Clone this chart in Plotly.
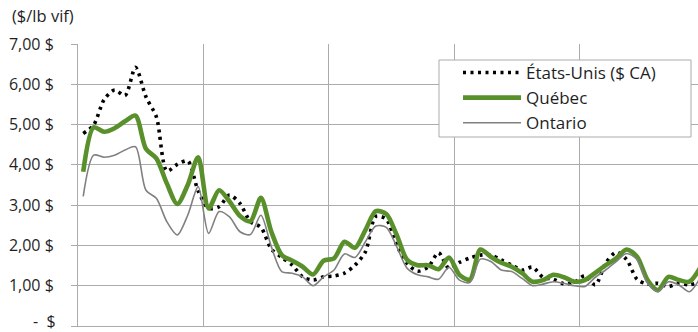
import plotly.graph_objects as go

months = list(range(60))

us = [4.78, 4.99, 5.62, 5.86, 5.72, 6.42, 5.69, 5.19, 3.85, 4.01,
      4.10, 3.35, 2.92, 2.96, 3.25, 3.04, 2.59, 2.45, 1.91, 1.70,
      1.51, 1.22, 1.14, 1.22, 1.24, 1.31, 1.51, 1.84, 2.72, 2.65,
      2.01, 1.55, 1.36, 1.46, 1.82, 1.43, 1.58, 1.69, 1.76, 1.76,
      1.64, 1.51, 1.39, 1.46, 1.21, 1.16, 1.05, 1.08, 1.25, 1.02,
      1.56, 1.83, 1.65, 1.16, 1.04, 1.06, 0.98, 1.06, 1.02, 1.10]

quebec = [3.83, 4.93, 4.82, 4.91, 5.08, 5.22, 4.40, 4.16, 3.54, 3.03,
          3.50, 4.19, 2.92, 3.37, 3.09, 2.73, 2.60, 3.18, 2.34, 1.76,
          1.62, 1.47, 1.28, 1.62, 1.68, 2.09, 1.94, 2.38, 2.85, 2.78,
          2.26, 1.64, 1.51, 1.51, 1.41, 1.70, 1.27, 1.15, 1.90, 1.72,
          1.57, 1.47, 1.31, 1.10, 1.14, 1.27, 1.21, 1.10, 1.14, 1.32,
          1.51, 1.68, 1.90, 1.72, 1.14, 0.89, 1.22, 1.14, 1.10, 1.43]

ontario = [3.22, 4.24, 4.19, 4.24, 4.37, 4.45, 3.37, 3.17, 2.59, 2.26,
           2.75, 3.46, 2.30, 2.84, 2.71, 2.34, 2.27, 2.75, 1.97, 1.35,
           1.31, 1.22, 1.00, 1.22, 1.39, 1.79, 1.70, 2.09, 2.48, 2.45,
           1.97, 1.43, 1.27, 1.22, 1.16, 1.46, 1.14, 1.08, 1.66, 1.60,
           1.39, 1.35, 1.18, 1.00, 1.04, 1.10, 1.06, 1.00, 0.98, 1.21,
           1.39, 1.60, 1.80, 1.65, 1.06, 0.85, 1.10, 1.02, 0.85, 1.18]

y_ticks = [0, 1, 2, 3, 4, 5, 6, 7]
y_labels = ["", "1,00 $", "2,00 $", "3,00 $", "4,00 $", "5,00 $", "6,00 $", "7,00 $"]
zero_label = "-  $"

GRID = "#ababab"
FONT = "Open Sans"
TXT = "#1f1f1f"

# plot area in pixels: left 78, right 698, top 44, bottom 326
PW, PH = 620.0, 282.0

def px_x(p):
    return (p - 78) / PW

def px_y(p):
    return (326 - p) / PH

fig = go.Figure()
fig.add_trace(go.Scatter(x=months, y=us, name="États-Unis ($ CA)", mode="lines",
                         line=dict(color="black", width=3.6, dash="3px,4.5px", shape="spline", smoothing=0.8)))
fig.add_trace(go.Scatter(x=months, y=quebec, name="Québec", mode="lines",
                         line=dict(color="#5a902b", width=4.6, shape="spline", smoothing=0.8)))
fig.add_trace(go.Scatter(x=months, y=ontario, name="Ontario", mode="lines",
                         line=dict(color="#808080", width=1.6, shape="spline", smoothing=0.8)))

fig.update_layout(
    width=698, height=332,
    margin=dict(l=78, r=0, t=44, b=6, autoexpand=False),
    paper_bgcolor="white", plot_bgcolor="white",
    font=dict(family=FONT, size=16, color=TXT),
    title=dict(text="($/lb vif)", x=12 / 698, xref="container", xanchor="left",
               y=1 - 16.5 / 332, yref="container", yanchor="middle",
               font=dict(family=FONT, size=16.5, color=TXT)),
    legend=dict(x=px_x(458), y=px_y(55), xanchor="left", yanchor="top",
                bgcolor="rgba(0,0,0,0)", borderwidth=0,
                font=dict(family=FONT, size=17, color=TXT),
                itemwidth=58),
    showlegend=True,
    shapes=[dict(type="rect", xref="paper", yref="paper",
                 x0=px_x(439), x1=px_x(691), y0=px_y(137), y1=px_y(60),
                 line=dict(color=GRID, width=1), fillcolor="white", layer="above")],
    annotations=[dict(text=zero_label, xref="paper", yref="paper",
                      x=px_x(58), y=px_y(321), xanchor="right", yanchor="middle",
                      showarrow=False, font=dict(family=FONT, size=16, color=TXT))],
)
fig.update_xaxes(range=[-0.5, 58.83], tick0=-0.5, dtick=12, showticklabels=False,
                 showgrid=True, gridcolor=GRID, gridwidth=1, automargin=False,
                 showline=True, linecolor=GRID, linewidth=1, zeroline=False, ticks="")
fig.update_yaxes(range=[0, 7], tickvals=y_ticks, ticktext=y_labels,
                 showgrid=True, gridcolor=GRID, gridwidth=1, automargin=False,
                 showline=True, linecolor=GRID, linewidth=1, zeroline=False,
                 ticks="outside", ticklen=6, tickcolor=GRID, ticklabelstandoff=14,
                 ticklabeloverflow="allow",
                 tickfont=dict(family=FONT, size=16, color=TXT))

fig.write_html("out.html")
